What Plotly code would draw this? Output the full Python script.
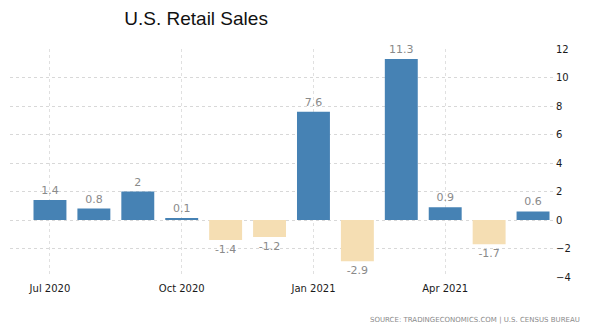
import plotly.graph_objects as go

months = ["Jul 2020", "Aug 2020", "Sep 2020", "Oct 2020", "Nov 2020", "Dec 2020",
          "Jan 2021", "Feb 2021", "Mar 2021", "Apr 2021", "May 2021", "Jun 2021"]
values = [1.4, 0.8, 2, 0.1, -1.4, -1.2, 7.6, -2.9, 11.3, 0.9, -1.7, 0.6]
tick_labels = ["Jul 2020", "Oct 2020", "Jan 2021", "Apr 2021"]
y_ticks = [-4, -2, 0, 2, 4, 6, 8, 10, 12]

idx = list(range(len(months)))
colors = ["#4682B4" if v >= 0 else "#F5DEB3" for v in values]
texts = [f"{v:g}" for v in values]

fig = go.Figure()
fig.add_trace(go.Bar(
    x=idx, y=values, width=0.75,
    marker=dict(color=colors, line=dict(width=0)),
    text=texts, textposition="outside",
    textfont=dict(family="Tahoma, DejaVu Sans, sans-serif", size=11, color="#8a8a8a"),
    cliponaxis=False, hoverinfo="skip",
))

fig.update_layout(
    width=596, height=327,
    margin=dict(l=10, r=41, t=49, b=50),
    paper_bgcolor="white", plot_bgcolor="white",
    showlegend=False,
    bargap=0.25,
    title=dict(text="U.S. Retail Sales", x=0.329, xanchor="center", y=0.945, yanchor="middle",
               font=dict(family="Arial, Liberation Sans, sans-serif", size=19, color="#111111")),
    annotations=[dict(text="SOURCE: TRADINGECONOMICS.COM | U.S. CENSUS BUREAU",
                      xref="paper", yref="paper", x=1.05, y=-0.19, xanchor="right", yanchor="middle",
                      showarrow=False,
                      font=dict(family="Tahoma, DejaVu Sans, sans-serif", size=7, color="#8a8a8a"))],
)

fig.update_xaxes(
    range=[-0.91, 11.5],
    tickmode="array", tickvals=[months.index(t) for t in tick_labels], ticktext=tick_labels,
    showgrid=True, gridcolor="#e0e0e0", griddash="dot", gridwidth=1,
    zeroline=False, showline=False, ticks="", ticklabelstandoff=4,
    tickfont=dict(family="Tahoma, DejaVu Sans, sans-serif", size=10, color="#1a1a1a"),
)
fig.update_yaxes(
    range=[-4, 12], side="right",
    tickmode="array", tickvals=y_ticks,
    showgrid=True, gridcolor="#d8d8d8", griddash="dot", gridwidth=1,
    zeroline=False, showline=False, ticks="",
    tickfont=dict(family="Tahoma, DejaVu Sans, sans-serif", size=10, color="#1a1a1a"),
)

fig.write_html("out.html")
